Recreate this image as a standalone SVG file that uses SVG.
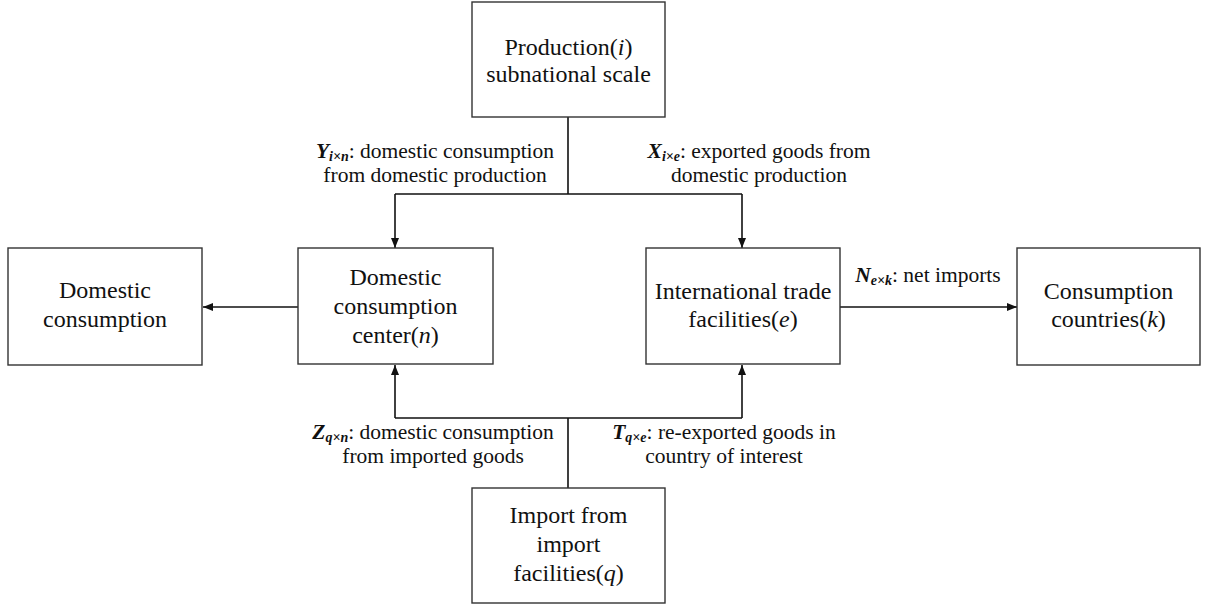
<svg xmlns="http://www.w3.org/2000/svg" width="1210" height="608" viewBox="0 0 1210 608">
<defs>
<marker id="ah" viewBox="0 0 10 10" refX="10" refY="5" markerWidth="10" markerHeight="10" markerUnits="userSpaceOnUse" orient="auto">
<path d="M0,1 L10,5 L0,9 Z" fill="#111"/>
</marker>
</defs>
<rect width="1210" height="608" fill="#fff"/>
<g id="connectors" fill="none" stroke="#111" stroke-width="1.6">
<path d="M568,117 V194 M395,194 H742"/>
<path d="M395,194 V248" marker-end="url(#ah)"/>
<path d="M742,194 V248" marker-end="url(#ah)"/>
<path d="M568,488 V418 M395,418 H742"/>
<path d="M395,418 V365" marker-end="url(#ah)"/>
<path d="M742,418 V365" marker-end="url(#ah)"/>
<path d="M298,307 H203" marker-end="url(#ah)"/>
<path d="M840,307 H1017" marker-end="url(#ah)"/>
</g>
<g id="labels" text-anchor="middle" fill="#111">
<text x="435" y="158" style="font-family:'Liberation Serif',serif;font-size:21.5px"><tspan font-weight="bold" font-style="italic">Y</tspan><tspan font-weight="bold" font-style="italic" font-size="14" dy="3">i&#215;n</tspan><tspan dy="-3">: domestic consumption</tspan></text>
<text x="435" y="182" style="font-family:'Liberation Serif',serif;font-size:21.5px">from domestic production</text>
<text x="759" y="158" style="font-family:'Liberation Serif',serif;font-size:21.5px"><tspan font-weight="bold" font-style="italic">X</tspan><tspan font-weight="bold" font-style="italic" font-size="14" dy="3">i&#215;e</tspan><tspan dy="-3">: exported goods from</tspan></text>
<text x="759" y="182" style="font-family:'Liberation Serif',serif;font-size:21.5px">domestic production</text>
<text x="433" y="439" style="font-family:'Liberation Serif',serif;font-size:21.5px"><tspan font-weight="bold" font-style="italic">Z</tspan><tspan font-weight="bold" font-style="italic" font-size="14" dy="3">q&#215;n</tspan><tspan dy="-3">: domestic consumption</tspan></text>
<text x="433" y="463" style="font-family:'Liberation Serif',serif;font-size:21.5px">from imported goods</text>
<text x="724" y="439" style="font-family:'Liberation Serif',serif;font-size:21.5px"><tspan font-weight="bold" font-style="italic">T</tspan><tspan font-weight="bold" font-style="italic" font-size="14" dy="3">q&#215;e</tspan><tspan dy="-3">: re-exported goods in</tspan></text>
<text x="724" y="463" style="font-family:'Liberation Serif',serif;font-size:21.5px">country of interest</text>
<text x="928" y="282" style="font-family:'Liberation Serif',serif;font-size:21.5px"><tspan font-weight="bold" font-style="italic">N</tspan><tspan font-weight="bold" font-style="italic" font-size="14" dy="3">e&#215;k</tspan><tspan dy="-3">: net imports</tspan></text>
</g>
<g id="production" text-anchor="middle" fill="#111">
<rect x="472" y="2" width="193" height="115" fill="#fff" stroke="#333" stroke-width="1.4"/>
<text x="568.5" y="55" style="font-family:'Liberation Serif',serif;font-size:24px">Production(<tspan font-style="italic">i</tspan>)</text>
<text x="568.5" y="82" style="font-family:'Liberation Serif',serif;font-size:24px">subnational scale</text>
</g>
<g id="domestic-consumption" text-anchor="middle" fill="#111">
<rect x="8" y="248" width="194" height="117" fill="#fff" stroke="#333" stroke-width="1.4"/>
<text x="105" y="298" style="font-family:'Liberation Serif',serif;font-size:24px">Domestic</text>
<text x="105" y="327" style="font-family:'Liberation Serif',serif;font-size:24px">consumption</text>
</g>
<g id="domestic-center" text-anchor="middle" fill="#111">
<rect x="298" y="248" width="195" height="116" fill="#fff" stroke="#333" stroke-width="1.4"/>
<text x="395.5" y="285" style="font-family:'Liberation Serif',serif;font-size:24px">Domestic</text>
<text x="395.5" y="314" style="font-family:'Liberation Serif',serif;font-size:24px">consumption</text>
<text x="395.5" y="343" style="font-family:'Liberation Serif',serif;font-size:24px">center(<tspan font-style="italic">n</tspan>)</text>
</g>
<g id="intl-trade" text-anchor="middle" fill="#111">
<rect x="646" y="248" width="194" height="116" fill="#fff" stroke="#333" stroke-width="1.4"/>
<text x="743" y="299" style="font-family:'Liberation Serif',serif;font-size:24px">International trade</text>
<text x="743" y="327" style="font-family:'Liberation Serif',serif;font-size:24px">facilities(<tspan font-style="italic">e</tspan>)</text>
</g>
<g id="consumption-countries" text-anchor="middle" fill="#111">
<rect x="1017" y="248" width="183" height="117" fill="#fff" stroke="#333" stroke-width="1.4"/>
<text x="1108.5" y="299" style="font-family:'Liberation Serif',serif;font-size:24px">Consumption</text>
<text x="1108.5" y="327" style="font-family:'Liberation Serif',serif;font-size:24px">countries(<tspan font-style="italic">k</tspan>)</text>
</g>
<g id="import" text-anchor="middle" fill="#111">
<rect x="472" y="488" width="193" height="115" fill="#fff" stroke="#333" stroke-width="1.4"/>
<text x="568.5" y="523" style="font-family:'Liberation Serif',serif;font-size:24px">Import from</text>
<text x="568.5" y="552" style="font-family:'Liberation Serif',serif;font-size:24px">import</text>
<text x="568.5" y="581" style="font-family:'Liberation Serif',serif;font-size:24px">facilities(<tspan font-style="italic">q</tspan>)</text>
</g>
</svg>
